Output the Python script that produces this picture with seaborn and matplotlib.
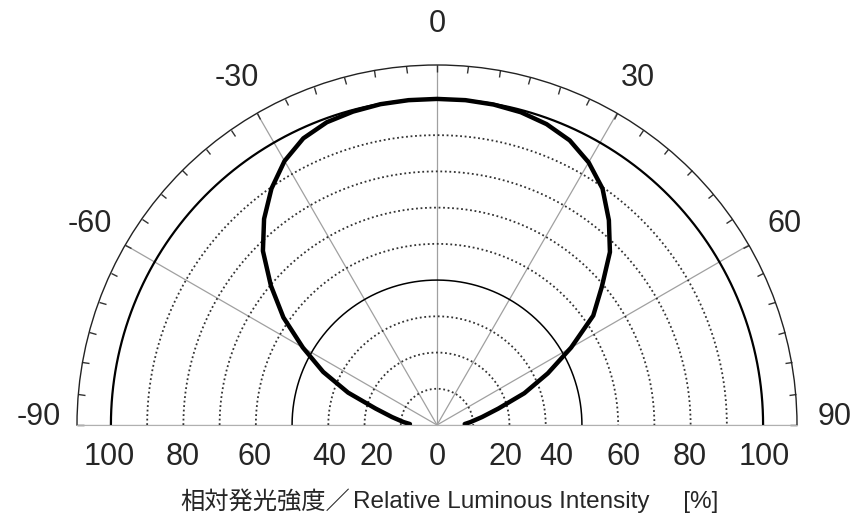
import numpy as np
import pandas as pd
import matplotlib
matplotlib.use("Agg")
import matplotlib.pyplot as plt
import seaborn as sns

# measured pattern (angle in deg, relative intensity in %)
angles = [-88, -85, -80, -75, -70, -65, -60, -55, -50, -45, -40, -35, -30, -25, -20, -15, -10, -5,
          0, 5, 10, 15, 20, 25, 30, 35, 40, 45, 50, 55, 60, 65, 70, 75, 80, 85, 88]
intensity = [8.3, 10.3, 14.0, 19.5, 29.0, 38.5, 47.5, 57.5, 66.5, 75.5, 82.5, 88.5, 93.5, 97.0, 98.8, 99.5, 99.9, 100.0,
             100.0, 100.0, 99.8, 99.3, 98.2, 96.3, 93.0, 88.5, 82.0, 75.0, 66.0, 58.5, 47.5, 37.5, 28.5, 19.5, 14.0, 10.3, 8.5]

angle_labels = ["-90", "-60", "-30", "0", "30", "60", "90"]
angle_ticks = [-90, -60, -30, 0, 30, 60, 90]
r_labels = ["100", "80", "60", "40", "20", "0", "20", "40", "60", "80", "100"]
r_label_pos = [-100.5, -77.9, -56.1, -33.1, -18.6, 0, 20.9, 36.5, 57.2, 77.6, 100.5]

df = pd.DataFrame({"theta": np.deg2rad(angles), "r": intensity})

sns.set_style("white")
plt.rcParams['font.family'] = ['Liberation Sans', 'Noto Sans CJK JP']

fig = plt.figure(figsize=(8.58, 5.29), dpi=100)
# square box, the half-disc sits in its middle
ax = fig.add_axes([77/858, (529-605)/529, 720/858, 720/529], projection='polar')
ax.set_theta_zero_location('N')
ax.set_theta_direction(-1)
ax.set_thetamin(-90)
ax.set_thetamax(90)
rmax = 110.4
ax.set_rlim(0, rmax)

# spokes + ticks on the outer arc
ax.set_xticks(np.deg2rad(angle_ticks))
ax.set_xticklabels([])
ax.set_xticks(np.deg2rad(np.arange(-90, 91, 5)), minor=True)
ax.tick_params(axis='x', which='both', direction='in', length=5, width=1, color='#333333',
               bottom=False, top=True, labeltop=False)
ax.xaxis.grid(True, color='#a0a0a0', lw=0.9)
ax.set_yticks([])

ax.spines['polar'].set_color('#222222')
ax.spines['polar'].set_linewidth(1.0)
ax.spines['start'].set_color('#b0b0b0')
ax.spines['end'].set_color('#b0b0b0')
ax.spines['inner'].set_visible(False)

# rings
th = np.linspace(-np.pi/2, np.pi/2, 400)
for k in range(1, 10):
    rr = 100/9*k
    if k == 9:
        ax.plot(th, np.full_like(th, rr), color='black', lw=1.6)
    elif k == 4:
        ax.plot(th, np.full_like(th, rr), color='black', lw=1.1)
    else:
        ax.plot(th, np.full_like(th, rr), color='#333333', lw=1.3, linestyle=(0, (1, 1.5)))

sns.lineplot(data=df, x="theta", y="r", ax=ax, color='black', lw=3.2, sort=False)
ax.set_xlabel("")
ax.set_ylabel("")

# angle labels
for a, lab in zip(angle_ticks, angle_labels):
    if abs(a) == 90:
        ax.text(np.deg2rad(a), 122, lab, ha='center', va='baseline', fontsize=22, clip_on=False)
    else:
        ax.text(np.deg2rad(a), 123, lab, ha='center', va='center', fontsize=22, clip_on=False)

# radial labels along the baseline
for p, lab in zip(r_label_pos, r_labels):
    ang = 90 if p >= 0 else -90
    ax.annotate(lab, xy=(np.deg2rad(ang), abs(p)), xytext=(0, -23), textcoords='offset points',
                ha='center', va='center', fontsize=22, annotation_clip=False)

fig.text(350/858, 1 - 502/529, "相対発光強度／", ha='right', va='center', fontsize=17.5)
fig.text(353/858, 1 - 502/529, "Relative Luminous Intensity     [%]", ha='left', va='center', fontsize=17.5)

fig.savefig("out.png", dpi=100)
